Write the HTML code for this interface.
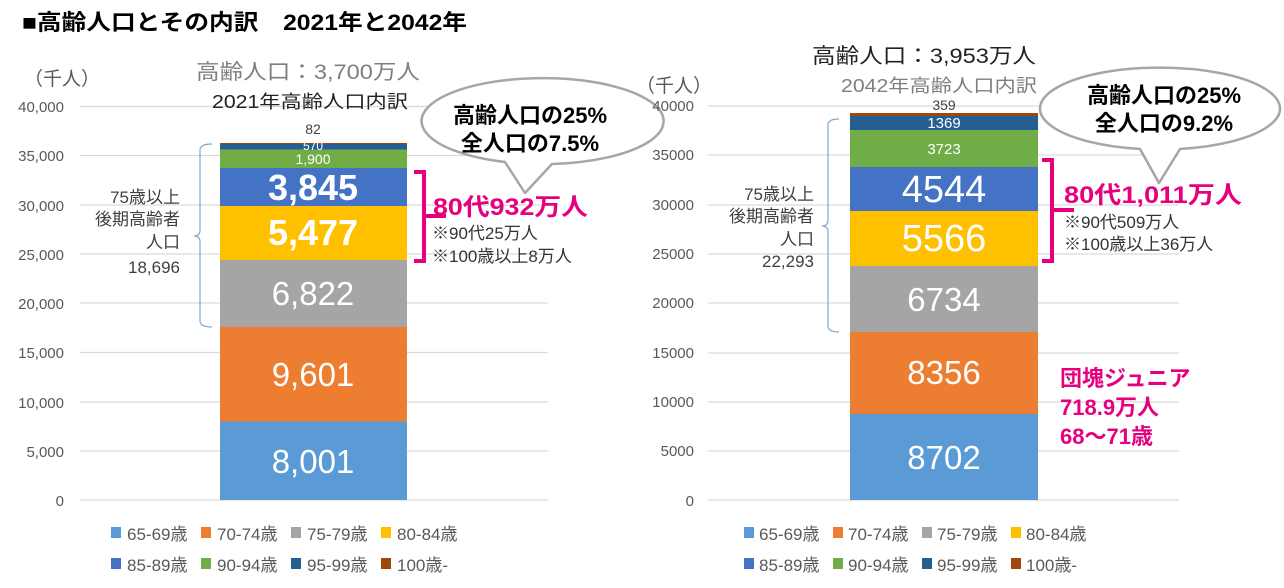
<!DOCTYPE html>
<html><head><meta charset="utf-8"><style>
body{margin:0;background:#fff;width:1284px;height:588px;overflow:hidden}
svg{display:block}
text{font-family:"Liberation Sans","Noto Sans CJK JP",sans-serif}
</style></head><body>
<svg width="1284" height="588" viewBox="0 0 1284 588">
<text x="22" y="30" font-size="22" font-weight="bold" fill="#000" textLength="445" lengthAdjust="spacingAndGlyphs">■高齢人口とその内訳　2021年と2042年</text>

<!-- LEFT CHART -->
<g stroke="#d9d9d9" stroke-width="1.2">
<line x1="80" x2="548" y1="106.5" y2="106.5"/><line x1="80" x2="548" y1="155.5" y2="155.5"/>
<line x1="80" x2="548" y1="205" y2="205"/><line x1="80" x2="548" y1="254" y2="254"/>
<line x1="80" x2="548" y1="303" y2="303"/><line x1="80" x2="548" y1="352.5" y2="352.5"/>
<line x1="80" x2="548" y1="402" y2="402"/><line x1="80" x2="548" y1="451" y2="451"/>
<line x1="80" x2="548" y1="500" y2="500"/>
</g>
<g font-size="15" fill="#595959" text-anchor="end">
<text x="64" y="112">40,000</text><text x="64" y="161">35,000</text><text x="64" y="211">30,000</text>
<text x="64" y="260">25,000</text><text x="64" y="309">20,000</text><text x="64" y="358">15,000</text>
<text x="64" y="408">10,000</text><text x="64" y="457">5,000</text><text x="64" y="506">0</text>
</g>
<text x="24" y="85" font-size="19" fill="#595959">（千人）</text>
<text x="196" y="79" font-size="21" fill="#7f7f7f" textLength="224" lengthAdjust="spacingAndGlyphs">高齢人口：3,700万人</text>
<text x="212" y="108" font-size="18" fill="#222" textLength="196" lengthAdjust="spacingAndGlyphs">2021年高齢人口内訳</text>

<rect x="220" y="421.5" width="187" height="78.5" fill="#5b9bd5"/>
<rect x="220" y="327" width="187" height="94.5" fill="#ed7d31"/>
<rect x="220" y="260" width="187" height="67" fill="#a5a5a5"/>
<rect x="220" y="206" width="187" height="54" fill="#ffc000"/>
<rect x="220" y="168" width="187" height="38" fill="#4472c4"/>
<rect x="220" y="149.5" width="187" height="18.5" fill="#70ad47"/>
<rect x="220" y="144" width="187" height="5.5" fill="#255e91"/>
<rect x="220" y="143" width="187" height="1" fill="#9e480e"/>
<g fill="#fff" text-anchor="middle">
<text x="313" y="473" font-size="33">8,001</text>
<text x="313" y="386" font-size="33">9,601</text>
<text x="313" y="305" font-size="33">6,822</text>
<text x="313" y="245" font-size="36" font-weight="bold">5,477</text>
<text x="313" y="200" font-size="36" font-weight="bold">3,845</text>
<text x="313" y="164" font-size="14">1,900</text>
<text x="313" y="150" font-size="12">570</text>
</g>
<text x="313" y="134" font-size="14" fill="#404040" text-anchor="middle">82</text>
<path d="M212,144 Q200,144 200,150 L200,230 Q200,236 194,236 Q200,236 200,242 L200,321 Q200,327 212,327" fill="none" stroke="#7fa7d0" stroke-width="1.2"/>
<g font-size="17" fill="#404040" text-anchor="end">
<text x="180" y="203">75歳以上</text><text x="180" y="225">後期高齢者</text>
<text x="180" y="248">人口</text><text x="180" y="273">18,696</text>
</g>
<path d="M414,172 L424,172 L424,261 L414,261 M424,216 L446,216" fill="none" stroke="#e6007e" stroke-width="4"/>
<text x="433" y="215" font-size="24" font-weight="bold" fill="#e6007e" textLength="155" lengthAdjust="spacingAndGlyphs">80代932万人</text>
<text x="432" y="239" font-size="17" fill="#333">※90代25万人</text>
<text x="432" y="262" font-size="17" fill="#333">※100歳以上8万人</text>
<path d="M505,162 A121,43 0 1 1 552,164 L525,193 Z" fill="#fff" stroke="#a6a6a6" stroke-width="2.5" stroke-linejoin="round"/>
<text x="530" y="123" font-size="22" font-weight="bold" text-anchor="middle">高齢人口の25%</text>
<text x="530" y="151" font-size="22" font-weight="bold" text-anchor="middle">全人口の7.5%</text>

<g font-size="17" fill="#595959">
<rect x="111" y="527" width="10" height="11" fill="#5b9bd5"/><text x="127" y="540">65-69歳</text>
<rect x="201" y="527" width="10" height="11" fill="#ed7d31"/><text x="217" y="540">70-74歳</text>
<rect x="291" y="527" width="10" height="11" fill="#a5a5a5"/><text x="307" y="540">75-79歳</text>
<rect x="381" y="527" width="10" height="11" fill="#ffc000"/><text x="397" y="540">80-84歳</text>
<rect x="111" y="558" width="10" height="11" fill="#4472c4"/><text x="127" y="571">85-89歳</text>
<rect x="201" y="558" width="10" height="11" fill="#70ad47"/><text x="217" y="571">90-94歳</text>
<rect x="291" y="558" width="10" height="11" fill="#255e91"/><text x="307" y="571">95-99歳</text>
<rect x="381" y="558" width="10" height="11" fill="#9e480e"/><text x="397" y="571">100歳-</text>
</g>

<!-- RIGHT CHART -->
<g stroke="#d9d9d9" stroke-width="1.2">
<line x1="708" x2="1179" y1="106" y2="106"/><line x1="708" x2="1179" y1="155" y2="155"/>
<line x1="708" x2="1179" y1="205" y2="205"/><line x1="708" x2="1179" y1="254" y2="254"/>
<line x1="708" x2="1179" y1="303" y2="303"/><line x1="708" x2="1179" y1="353" y2="353"/>
<line x1="708" x2="1179" y1="402" y2="402"/><line x1="708" x2="1179" y1="451" y2="451"/>
<line x1="708" x2="1179" y1="500" y2="500"/>
</g>
<g font-size="15" fill="#595959" text-anchor="end">
<text x="694" y="111">40000</text><text x="694" y="160">35000</text><text x="694" y="210">30000</text>
<text x="694" y="259">25000</text><text x="694" y="308">20000</text><text x="694" y="358">15000</text>
<text x="694" y="407">10000</text><text x="694" y="456">5000</text><text x="694" y="506">0</text>
</g>
<text x="636" y="92" font-size="19" fill="#595959">（千人）</text>
<text x="812" y="63" font-size="21" fill="#222" textLength="224" lengthAdjust="spacingAndGlyphs">高齢人口：3,953万人</text>
<text x="841" y="92" font-size="18" fill="#7f7f7f" textLength="196" lengthAdjust="spacingAndGlyphs">2042年高齢人口内訳</text>

<rect x="850" y="414" width="188" height="86" fill="#5b9bd5"/>
<rect x="850" y="332" width="188" height="82" fill="#ed7d31"/>
<rect x="850" y="266" width="188" height="66" fill="#a5a5a5"/>
<rect x="850" y="211" width="188" height="55" fill="#ffc000"/>
<rect x="850" y="167" width="188" height="44" fill="#4472c4"/>
<rect x="850" y="130" width="188" height="37" fill="#70ad47"/>
<rect x="850" y="116" width="188" height="14" fill="#255e91"/>
<rect x="850" y="113" width="188" height="3" fill="#9e480e"/>
<g fill="#fff" text-anchor="middle">
<text x="944" y="469" font-size="33">8702</text>
<text x="944" y="384" font-size="33">8356</text>
<text x="944" y="311" font-size="33">6734</text>
<text x="944" y="251" font-size="38">5566</text>
<text x="944" y="202" font-size="38">4544</text>
<text x="944" y="154" font-size="15">3723</text>
<text x="944" y="128" font-size="15">1369</text>
</g>
<text x="944" y="110" font-size="14" fill="#404040" text-anchor="middle">359</text>
<path d="M839,119 Q828,119 828,125 L828,220 Q828,226 822,226 Q828,226 828,232 L828,326 Q828,332 839,332" fill="none" stroke="#7fa7d0" stroke-width="1.2"/>
<g font-size="17" fill="#404040" text-anchor="end">
<text x="814" y="200">75歳以上</text><text x="814" y="222">後期高齢者</text>
<text x="814" y="245">人口</text><text x="814" y="267">22,293</text>
</g>
<path d="M1042,160 L1052,160 L1052,261 L1042,261 M1052,210 L1074,210" fill="none" stroke="#e6007e" stroke-width="4"/>
<text x="1064" y="203" font-size="24" font-weight="bold" fill="#e6007e" textLength="178" lengthAdjust="spacingAndGlyphs">80代1,011万人</text>
<text x="1064" y="228" font-size="17" fill="#333">※90代509万人</text>
<text x="1064" y="250" font-size="17" fill="#333">※100歳以上36万人</text>
<path d="M1140,149 A120,41 0 1 1 1180,149 L1159,183 Z" fill="#fff" stroke="#a6a6a6" stroke-width="2.5" stroke-linejoin="round"/>
<text x="1164" y="103" font-size="22" font-weight="bold" text-anchor="middle">高齢人口の25%</text>
<text x="1164" y="131" font-size="22" font-weight="bold" text-anchor="middle">全人口の9.2%</text>
<g font-size="22" font-weight="bold" fill="#e6007e">
<text x="1060" y="386">団塊ジュニア</text><text x="1060" y="415">718.9万人</text><text x="1060" y="444">68〜71歳</text>
</g>

<g font-size="17" fill="#595959">
<rect x="744" y="527" width="10" height="11" fill="#5b9bd5"/><text x="759" y="540">65-69歳</text>
<rect x="833" y="527" width="10" height="11" fill="#ed7d31"/><text x="848" y="540">70-74歳</text>
<rect x="922" y="527" width="10" height="11" fill="#a5a5a5"/><text x="937" y="540">75-79歳</text>
<rect x="1011" y="527" width="10" height="11" fill="#ffc000"/><text x="1026" y="540">80-84歳</text>
<rect x="744" y="558" width="10" height="11" fill="#4472c4"/><text x="759" y="571">85-89歳</text>
<rect x="833" y="558" width="10" height="11" fill="#70ad47"/><text x="848" y="571">90-94歳</text>
<rect x="922" y="558" width="10" height="11" fill="#255e91"/><text x="937" y="571">95-99歳</text>
<rect x="1011" y="558" width="10" height="11" fill="#9e480e"/><text x="1026" y="571">100歳-</text>
</g>
</svg>
</body></html>
